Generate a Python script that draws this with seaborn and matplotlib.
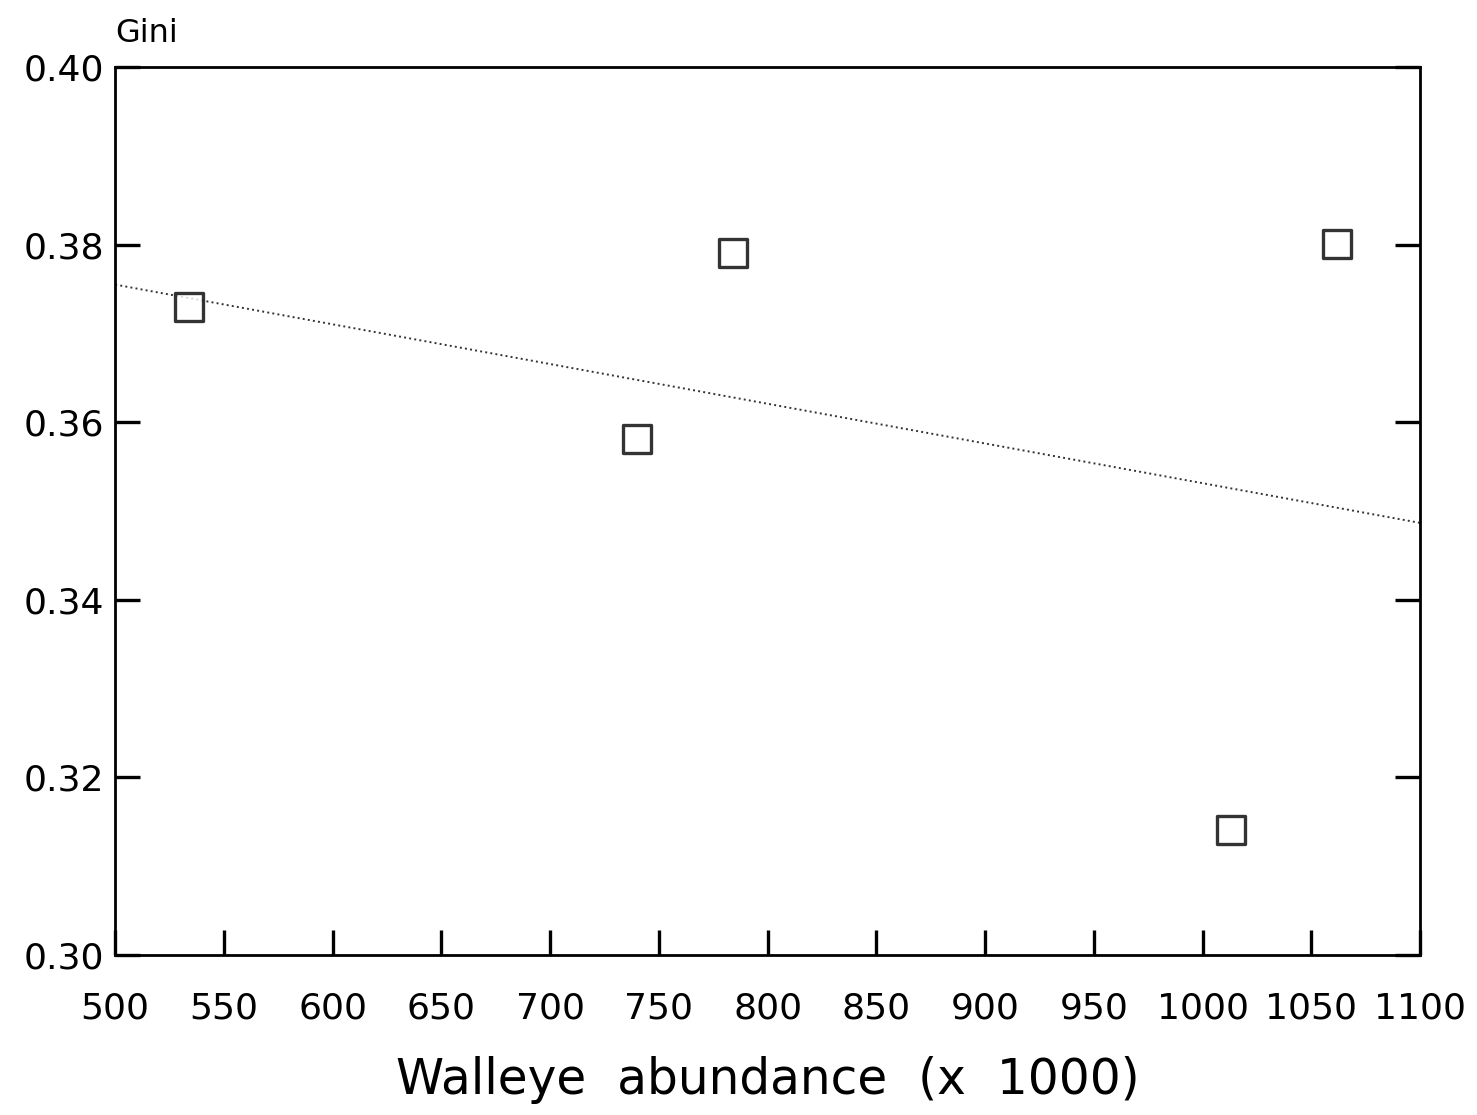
import matplotlib
matplotlib.use("Agg")
import matplotlib.pyplot as plt
import seaborn as sns
import pandas as pd

# Walleye abundance (x 1000) and Gini coefficient
abundance = [534, 740, 784, 1013, 1062]
gini = [0.3730, 0.3581, 0.3791, 0.3141, 0.3801]

x_ticks = list(range(500, 1101, 50))
y_ticks = [0.30, 0.32, 0.34, 0.36, 0.38, 0.40]

df = pd.DataFrame({"abundance": abundance, "gini": gini})

sns.set_style("ticks")
plt.rcParams["font.family"] = ["DejaVu Sans"]

fig = plt.figure(figsize=(14.77, 11.15), dpi=100)
ax = fig.add_axes([0.078, 0.1435, 0.8835, 0.7965])
# limits first so the fitted line spans the whole x range
ax.set_xlim(500, 1100)
ax.set_ylim(0.30, 0.40)

sns.regplot(data=df, x="abundance", y="gini", ax=ax, ci=None, truncate=False,
            marker="s",
            scatter_kws={"s": 400, "facecolors": "white", "edgecolors": "black",
                         "linewidths": 2.4, "zorder": 3},
            line_kws={"color": "#333333", "linestyle": ":", "linewidth": 1.4})

ax.set_xlim(500, 1100)
ax.set_ylim(0.30, 0.40)
ax.set_xticks(x_ticks)
ax.set_yticks(y_ticks)
ax.set_yticklabels([f"{v:.2f}" for v in y_ticks])
ax.yaxis.set_ticks_position("both")
ax.tick_params(axis="both", which="major", direction="in", length=18, width=2.4,
               labelsize=26, colors="black")
ax.tick_params(axis="y", left=True, right=True, labelleft=True,
               labelright=False, pad=8)
ax.tick_params(axis="x", bottom=True, top=False, pad=26)
for s in ax.spines.values():
    s.set_linewidth(2)
    s.set_color("black")

ax.set_xlabel("Walleye  abundance  (x  1000)", fontsize=35, labelpad=22,
              color="black")
ax.set_ylabel("")
ax.text(0.0, 1.02, "Gini", transform=ax.transAxes, fontsize=23, va="bottom",
        ha="left", color="black")

fig.savefig("out.png", dpi=100, facecolor="white")
